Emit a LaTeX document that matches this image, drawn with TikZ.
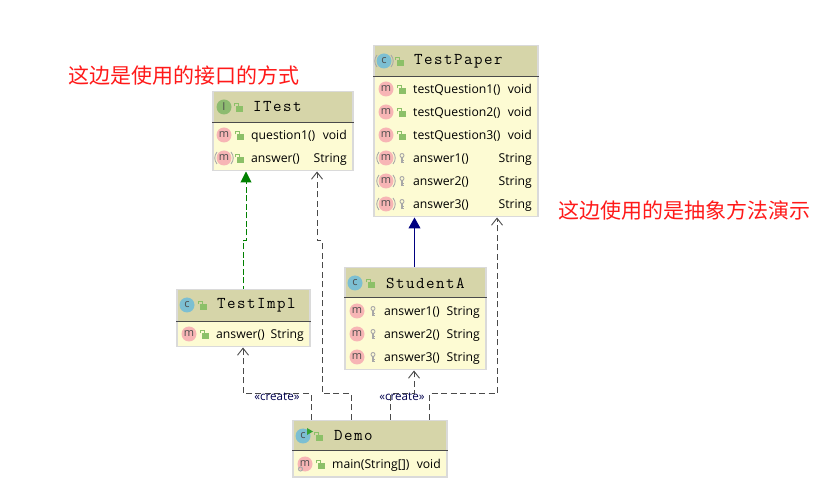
\documentclass[tikz,border=0pt]{standalone}
\usepackage{fontspec}
\setmainfont{Open Sans}
\newfontfamily\cjkfont{Noto Sans CJK SC}
\newfontfamily\titlefont[LetterSpace=9]{Latin Modern Mono}
\usetikzlibrary{arrows.meta}

\definecolor{headcol}{HTML}{D6D5A9}
\definecolor{bodycol}{HTML}{FDFBD3}
\definecolor{edgecol}{HTML}{DADADA}
\definecolor{linecol}{HTML}{4A4A4A}
\definecolor{navycol}{HTML}{000080}
\definecolor{greencol}{HTML}{008000}
\definecolor{pinkcol}{HTML}{F7B5B5}
\definecolor{bluecol}{HTML}{7CBFD2}
\definecolor{ifacecol}{HTML}{8DBB70}
\definecolor{lockcol}{HTML}{8CC068}
\definecolor{keycol}{HTML}{A8A8A8}

\tikzset{
  headbox/.style={draw=edgecol, line width=1.5pt, fill=headcol, anchor=north west, inner sep=0pt},
  bodybox/.style={draw=edgecol, line width=1.5pt, fill=bodycol, anchor=north west, inner sep=0pt},
  classname/.style={anchor=west, inner sep=0pt, font=\titlefont\fontsize{16.5}{16}\selectfont},
  membername/.style={anchor=west, inner sep=0pt, yshift=-1.5pt, text height=9pt, text depth=3pt, font=\fontsize{12.2}{14}\selectfont},
  membertype/.style={anchor=east, inner sep=0pt, yshift=-1.5pt, text height=9pt, text depth=3pt, font=\fontsize{12.2}{14}\selectfont},
  iconbadge/.style={circle, minimum size=15pt, inner sep=0pt, text=black!70, font=\fontsize{11}{11}\selectfont},
  createlabel/.style={inner sep=0pt, text=navycol!60!black, font=\fontsize{11.6}{12}\selectfont},
  notelabel/.style={anchor=west, inner sep=0pt, text=red!90!white, font=\cjkfont\fontsize{21}{24}\selectfont},
  createline/.style={draw=linecol, line width=1pt, dash pattern=on 6pt off 3.5pt, -{Straight Barb[length=7pt,width=11pt,line width=0.9pt]}},
  implline/.style={draw=greencol, line width=1pt, dash pattern=on 6pt off 2.5pt, dash phase=3pt, -{Triangle[length=11pt,width=11pt]}},
  extendline/.style={draw=navycol, line width=1pt, -{Triangle[length=11pt,width=12pt]}}
}

% lucchetto verde
\newcommand{\lockicon}[2]{
  \fill[lockcol] (#1-2,#2-0.5) rectangle (#1+4.5,#2+5);
  \draw[lockcol, line width=1pt] (#1-3.5,#2-0.5) -- (#1-3.5,#2-3) -- (#1+0.5,#2-3) -- (#1+0.5,#2);
}
% chiave grigia
\newcommand{\keyicon}[2]{
  \draw[keycol, line width=0.9pt] (#1,#2-2.5) circle (2);
  \draw[keycol, line width=1.1pt] (#1,#2-0.5) -- (#1,#2+5) (#1,#2+2.5) -- (#1+1.6,#2+2.5) (#1,#2+4.5) -- (#1+1.6,#2+4.5);
}
% riga: nome, x icona, y, x testo, x destra, testo, tipo
\newcommand{\memberrow}[7]{
  \node[iconbadge, fill=pinkcol] (#1icon) at (#2,#3) {m};
  \node[membername] (#1name) at (#4,#3) {#6};
  \node[membertype] (#1type) at (#5,#3) {#7};
}
% parentesi dei metodi astratti
\newcommand{\absmark}[2]{
  \draw[keycol, line width=0.9pt] (#1-7,#2-6) .. controls (#1-10,#2-2) and (#1-10,#2+2) .. (#1-7,#2+6);
  \draw[keycol, line width=0.9pt] (#1+7,#2-6) .. controls (#1+10,#2-2) and (#1+10,#2+2) .. (#1+7,#2+6);
}

\begin{document}
\begin{tikzpicture}[x=1pt, y=-1pt]
  \useasboundingbox (0,0) rectangle (820,494);

  % Note in rosso
  \node[notelabel] (noteleft) at (68,76) {这边是使用的接口的方式};
  \node[notelabel] (noteright) at (558,211) {这边使用的是抽象方法演示};

  % ITest
  \node[headbox, minimum width=140pt, minimum height=31pt] (itesthead) at (212,91) {};
  \node[bodybox, minimum width=140pt, minimum height=48pt] (itestbody) at (212,122) {};
  \draw[linecol] (itestbody.north west) -- (itestbody.north east);
  \node[iconbadge, fill=ifacecol] (itesticon) at (224,107) {I};
  \lockicon{238}{107}
  \node[classname] (itesttitle) at (253,107) {ITest};
  \memberrow{itestq}{224}{135}{251}{347}{question1()}{void}
  \lockicon{239}{135}
  \memberrow{itesta}{224}{158}{251}{347}{answer()}{String}
  \absmark{224}{158}
  \lockicon{239}{158}

  % TestPaper
  \node[headbox, minimum width=164pt, minimum height=31pt] (paperhead) at (373,45) {};
  \node[bodybox, minimum width=164pt, minimum height=140pt] (paperbody) at (373,76) {};
  \draw[linecol] (paperbody.north west) -- (paperbody.north east);
  \node[iconbadge, fill=bluecol] (papericon) at (384,61) {c};
  \absmark{384}{61}
  \lockicon{399}{61}
  \node[classname] (papertitle) at (414,61) {TestPaper};
  \memberrow{paperqa}{386}{89}{413}{532}{testQuestion1()}{void}
  \lockicon{401}{89}
  \memberrow{paperqb}{386}{112}{413}{532}{testQuestion2()}{void}
  \lockicon{401}{112}
  \memberrow{paperqc}{386}{135}{413}{532}{testQuestion3()}{void}
  \lockicon{401}{135}
  \memberrow{paperaa}{386}{158}{413}{532}{answer1()}{String}
  \absmark{386}{158}
  \keyicon{402}{158}
  \memberrow{paperab}{386}{181}{413}{532}{answer2()}{String}
  \absmark{386}{181}
  \keyicon{402}{181}
  \memberrow{paperac}{386}{204}{413}{532}{answer3()}{String}
  \absmark{386}{204}
  \keyicon{402}{204}

  % TestImpl
  \node[headbox, minimum width=133pt, minimum height=32pt] (implhead) at (176,289) {};
  \node[bodybox, minimum width=133pt, minimum height=25pt] (implbody) at (176,321) {};
  \draw[linecol] (implbody.north west) -- (implbody.north east);
  \node[iconbadge, fill=bluecol] (implicon) at (187,305) {c};
  \lockicon{202}{305}
  \node[classname] (impltitle) at (217,305) {TestImpl};
  \memberrow{implm}{189}{334}{216}{304}{answer()}{String}
  \lockicon{204}{334}

  % StudentA
  \node[headbox, minimum width=141pt, minimum height=30pt] (studenthead) at (344,267) {};
  \node[bodybox, minimum width=141pt, minimum height=72pt] (studentbody) at (344,297) {};
  \draw[linecol] (studentbody.north west) -- (studentbody.north east);
  \node[iconbadge, fill=bluecol] (studenticon) at (355,283) {c};
  \lockicon{370}{283}
  \node[classname] (studenttitle) at (386,283) {StudentA};
  \memberrow{studenta}{357}{311}{384}{480}{answer1()}{String}
  \keyicon{373}{311}
  \memberrow{studentb}{357}{334}{384}{480}{answer2()}{String}
  \keyicon{373}{334}
  \memberrow{studentc}{357}{357}{384}{480}{answer3()}{String}
  \keyicon{373}{357}

  % Demo
  \node[headbox, minimum width=154pt, minimum height=30pt] (demohead) at (292,420) {};
  \node[bodybox, minimum width=154pt, minimum height=26pt] (demobody) at (292,450) {};
  \draw[linecol] (demobody.north west) -- (demobody.north east);
  \node[iconbadge, fill=bluecol] (demoicon) at (303,436) {c};
  \fill[green!55!black!80] (307,428) -- (313,431.5) -- (307,435) -- cycle;
  \lockicon{318}{436}
  \node[classname] (demotitle) at (334,436) {Demo};
  \memberrow{demom}{305}{464}{332}{441}{main(String[])}{void}
  \draw[keycol, line width=1pt] (300.5,469) circle (2);
  \lockicon{320}{464}

  % Connettori
  \draw[extendline] ([xshift=70.5pt]studenthead.north west) -- ([xshift=41.5pt]paperbody.south west);
  \draw[implline] ([xshift=67pt]implhead.north west) -- ++(0,-48) -- ++(3,0) -- ([xshift=34pt]itestbody.south west);
  \draw[createline] ([xshift=19pt]demohead.north west) -- ++(0,-26) -| ([xshift=67pt]implbody.south west);
  \draw[createline] ([xshift=59pt]demohead.north west) -- ++(0,-26) -- ++(-29,0) -- (322,241) -- (317,241) -- ([xshift=105pt]itestbody.south west);
  \draw[createline] ([xshift=98pt]demohead.north west) -- ++(0,-26) -| ([xshift=70pt]studentbody.south west);
  \draw[createline] ([xshift=137pt]demohead.north west) -- ++(0,-26) -| ([xshift=124pt]paperbody.south west);

  \node[createlabel] (createleft) at (277,397) {«create»};
  \node[createlabel] (createright) at (402,397) {«create»};
\end{tikzpicture}
\end{document}
